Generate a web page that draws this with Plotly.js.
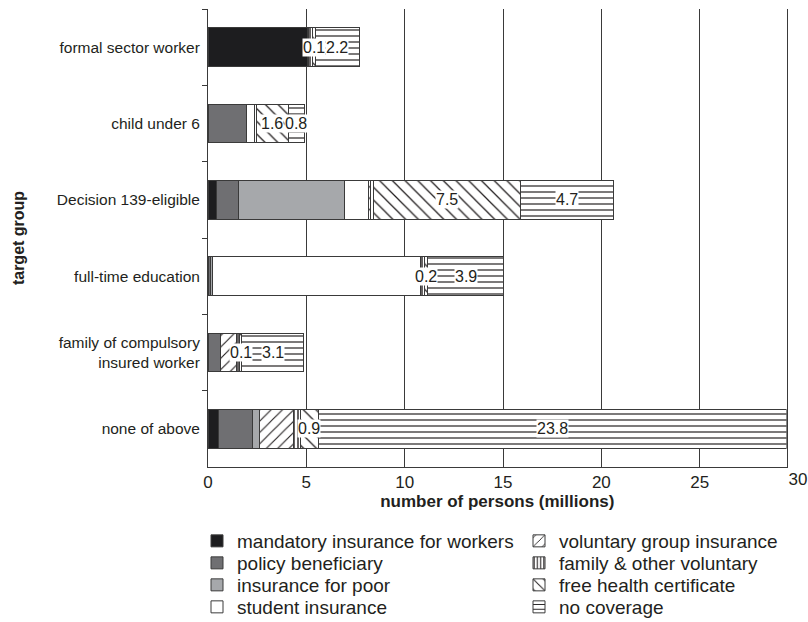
<!DOCTYPE html>
<html>
<head>
<meta charset="utf-8">
<script src="https://cdn.plot.ly/plotly-3.0.1.min.js"></script>
<style>
  html, body { margin: 0; padding: 0; background: #ffffff; }
  #chart { width: 808px; height: 622px; }
</style>
</head>
<body>
<div id="chart"></div>
<script>
// ---- data (millions of persons) ----
const categories = [
  'formal sector worker',
  'child under 6',
  'Decision 139-eligible',
  'full-time education',
  'family of compulsory<br>insured worker',
  'none of above'
];
const seriesNames = [
  'mandatory insurance for workers',
  'policy beneficiary',
  'insurance for poor',
  'student insurance',
  'voluntary group insurance',
  'family & other voluntary',
  'free health certificate',
  'no coverage'
];
const mandatory  = [5.05, 0.00, 0.43, 0.00, 0.00, 0.55];
const policy     = [0.00, 1.95, 1.13, 0.15, 0.65, 1.70];
const poor       = [0.00, 0.00, 5.38, 0.10, 0.00, 0.35];
const student    = [0.00, 0.42, 1.23, 10.55, 0.00, 0.00];
const volGroup   = [0.06, 0.00, 0.08, 0.00, 0.80, 1.75];
const familyVol  = [0.20, 0.08, 0.15, 0.20, 0.15, 0.35];
const freeHealth = [0.14, 1.62, 7.50, 0.17, 0.12, 0.90];
const noCoverage = [2.24, 0.84, 4.72, 3.88, 3.14, 23.82];
const xTickVals  = [0, 5, 10, 15, 20, 25];
const xOuterTick = [30];

// ---- styling ----
const FONT = '"Liberation Sans", Arial, sans-serif';
const INK = '#231f20';
const LINE = '#3a3a3a';
const W = 808, H = 622;
const M = {l: 208, r: 10, t: 9, b: 155, autoexpand: false};
const plotW = W - M.l - M.r, plotH = H - M.t - M.b;

const allSeries = [mandatory, policy, poor, student, volGroup, familyVol, freeHealth, noCoverage];
const styles = [
  {color: '#1d1d1f'},
  {color: '#6f6f72'},
  {color: '#a6a8ab'},
  {color: '#ffffff'},
  {color: '#ffffff', pattern: {shape: '/', size: 8, solidity: 0.14, fgcolor: INK, bgcolor: '#ffffff', fillmode: 'replace'}},
  {color: '#ffffff', pattern: {shape: '|', size: 4, solidity: 0.35, fgcolor: INK, bgcolor: '#ffffff', fillmode: 'replace'}},
  {color: '#ffffff', pattern: {shape: '\\', size: 9, solidity: 0.14, fgcolor: INK, bgcolor: '#ffffff', fillmode: 'replace'}},
  {color: '#ffffff', pattern: {shape: '-', size: 6, solidity: 0.2, fgcolor: INK, bgcolor: '#ffffff', fillmode: 'replace'}}
];

const legendIds = seriesNames.map((n, k) => k === 0 ? 'legend' : 'legend' + (k + 1));

const traces = allSeries.map((vals, k) => {
  const m = {color: styles[k].color, line: {color: LINE, width: 1}};
  if (styles[k].pattern) m.pattern = styles[k].pattern;
  return {
    type: 'bar',
    orientation: 'h',
    name: seriesNames[k],
    x: vals,
    y: categories,
    marker: m,
    legend: legendIds[k],
    hoverinfo: 'x+name'
  };
});

// totals -> axis extent
const totals = categories.map((c, i) => allSeries.reduce((s, arr) => s + arr[i], 0));
const maxTotal = Math.max(...totals);
const outerMax = xOuterTick[0];

// invisible helper on the outer scale so the "30" label axis is built
traces.push({
  type: 'scatter', mode: 'none', x: totals, y: categories,
  xaxis: 'x2', yaxis: 'y', showlegend: false, hoverinfo: 'skip'
});

// value labels on free health certificate and no coverage segments
const annotations = [];
categories.forEach((c, i) => {
  const before = mandatory[i] + policy[i] + poor[i] + student[i] + volGroup[i] + familyVol[i];
  const labelSeries = [
    {start: before, v: freeHealth[i]},
    {start: before + freeHealth[i], v: noCoverage[i]}
  ];
  labelSeries.forEach(s => {
    if (s.v > 0) {
      annotations.push({
        x: s.start + s.v / 2, y: c, xref: 'x', yref: 'y',
        text: s.v.toFixed(1), showarrow: false,
        font: {family: FONT, size: 16, color: INK},
        bgcolor: '#ffffff', borderpad: 0
      });
    }
  });
});

// legends: two columns of four rows (positions given in pixels, converted to paper units)
const layoutLegends = {};
const rowCenters = [541, 563, 585, 607];
const colLeft = [197, 519];
legendIds.forEach((id, k) => {
  layoutLegends[id] = {
    xref: 'paper', yref: 'paper',
    x: (colLeft[k < 4 ? 0 : 1] - M.l) / plotW, xanchor: 'left',
    y: (H - M.b - rowCenters[k % 4]) / plotH, yanchor: 'middle',
    font: {family: FONT, size: 19, color: INK},
    bgcolor: 'rgba(0,0,0,0)', borderwidth: 0, itemwidth: 30
  };
});

const layout = Object.assign({
  width: W, height: H,
  paper_bgcolor: '#ffffff', plot_bgcolor: 'rgba(0,0,0,0)',
  font: {family: FONT, color: INK, size: 15.5},
  barmode: 'stack',
  bargap: 0.49,
  margin: M,
  xaxis: {
    domain: [0, maxTotal / outerMax],
    range: [0, maxTotal],
    tickvals: xTickVals,
    ticks: '',
    showgrid: true, gridcolor: LINE, gridwidth: 1,
    zeroline: false,
    showline: true, linecolor: LINE, linewidth: 1,
    tickfont: {family: FONT, size: 17, color: INK},
    title: {text: '<b>number of persons (millions)</b>', font: {family: FONT, size: 17, color: INK}, standoff: 0}
  },
  xaxis2: {
    domain: [0, 1], anchor: 'y',
    range: [0, outerMax],
    tickvals: xOuterTick,
    ticks: '', showgrid: false, zeroline: false, showline: false,
    tickfont: {family: FONT, size: 17, color: INK}
  },
  yaxis: {
    type: 'category',
    categoryorder: 'array', categoryarray: categories,
    autorange: 'reversed',
    tickson: 'boundaries',
    ticks: 'outside', ticklen: 5, tickcolor: LINE,
    ticklabelstandoff: 4,
    showline: true, linecolor: LINE, linewidth: 1, mirror: true,
    showgrid: false, zeroline: false,
    tickfont: {family: FONT, size: 15.5, color: INK},
    title: {text: '<b>target group</b>', font: {family: FONT, size: 16, color: INK}, standoff: 28}
  },
  annotations: annotations,
  showlegend: true
}, layoutLegends);

Plotly.newPlot('chart', traces, layout, {displayModeBar: false, staticPlot: true});
</script>
</body>
</html>
